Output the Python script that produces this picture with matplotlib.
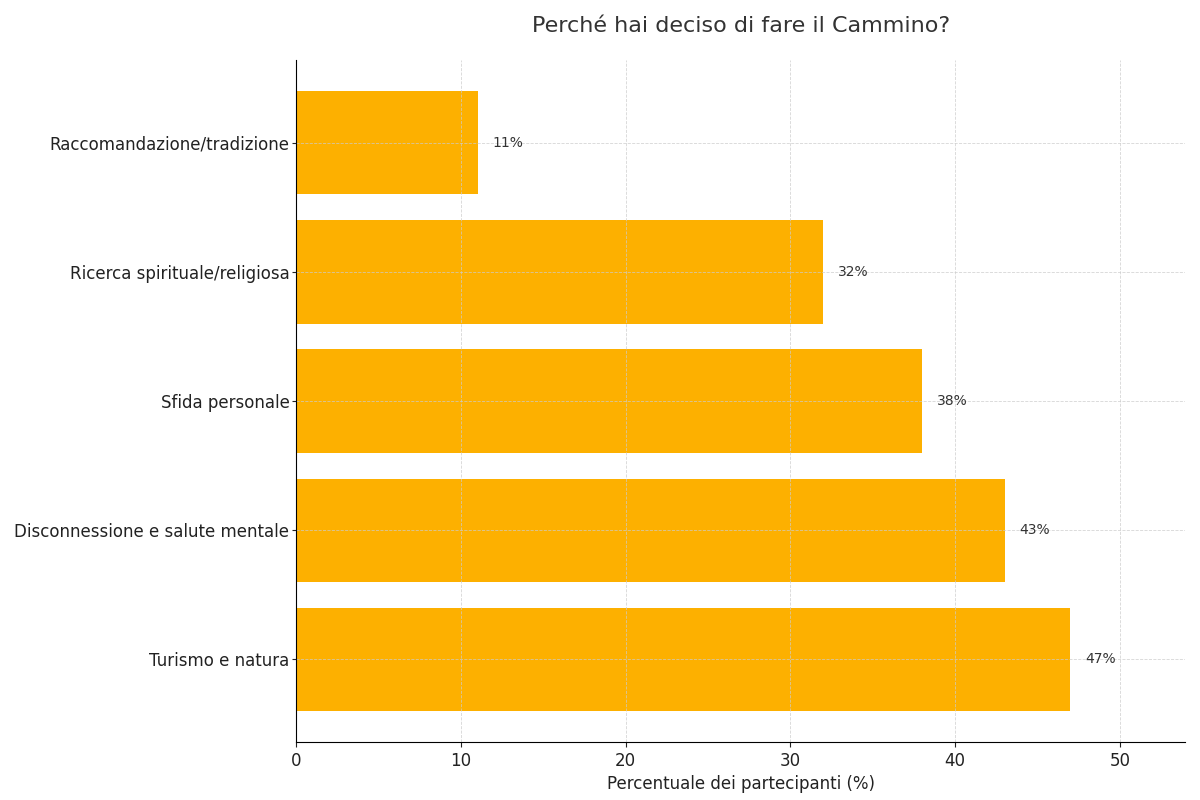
import matplotlib.pyplot as plt

categories = ["Turismo e natura", "Disconnessione e salute mentale", "Sfida personale",
              "Ricerca spirituale/religiosa", "Raccomandazione/tradizione"]
values = [47, 43, 38, 32, 11]

fig = plt.figure(figsize=(12, 8), dpi=100)
ax = fig.add_axes([0.247, 0.0725, 0.7405, 0.8525])

bars = ax.barh(categories, values, height=0.8, color="#FDB000")
for b, v in zip(bars, values):
    ax.text(v + 0.9, b.get_y() + b.get_height() / 2, f"{v}%", va="center", ha="left",
            fontsize=10, color="#333333")

ax.set_xlim(0, max(values) * 1.148)
ax.set_xticks([0, 10, 20, 30, 40, 50])
ax.grid(True, linestyle="--", linewidth=0.6, color="#cccccc", alpha=0.8)
ax.spines["top"].set_visible(False)
ax.spines["right"].set_visible(False)
ax.tick_params(axis="both", labelsize=12, colors="#222222")
ax.tick_params(axis="y", pad=2, length=3)
ax.set_xlabel("Percentuale dei partecipanti (%)", fontsize=12, color="#222222")
ax.set_title("Perché hai deciso di fare il Cammino?", fontsize=16, color="#333333", pad=20)

fig.savefig("out.png", dpi=100)
